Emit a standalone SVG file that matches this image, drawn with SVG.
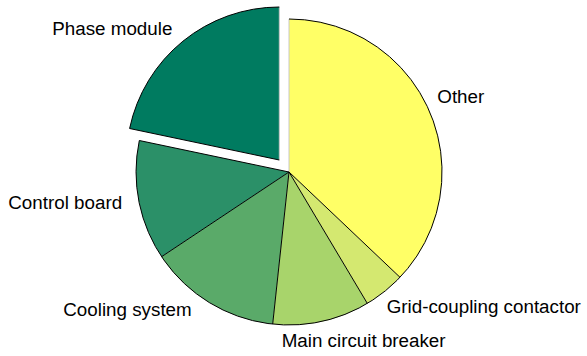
<svg xmlns="http://www.w3.org/2000/svg" width="587" height="356" viewBox="0 0 587 356">
  <style>
    .lbl { font-family: "Liberation Sans", Arial, sans-serif; font-size: 18.8px; fill: #000; }
    .edge { fill: none; stroke: #000; stroke-width: 1; stroke-linejoin: round; }
    .seam { fill: none; stroke: #c8c8c8; stroke-width: 1; }
  </style>
  <rect width="587" height="356" fill="#fff"/>

  <!-- pie slices, centre (289,172), radius 153 -->
  <g id="slice-phase-module">
    <path d="M279.3,160 L279.3,7 A153,153 0 0 0 129.6,128.5 Z" fill="#007b60"/>
    <path class="seam" d="M279.3,160 L279.3,7"/>
    <path class="edge" d="M279.3,7 A153,153 0 0 0 129.6,128.5 L279.3,160"/>
  </g>
  <g id="slice-control-board">
    <path d="M289,172 L139.3,140.5 A153,153 0 0 0 161.6,256.7 Z" fill="#2b9068"/>
  </g>
  <g id="slice-cooling-system">
    <path d="M289,172 L161.6,256.7 A153,153 0 0 0 272.7,324.1 Z" fill="#5aaa69"/>
  </g>
  <g id="slice-main-circuit-breaker">
    <path d="M289,172 L272.7,324.1 A153,153 0 0 0 367.3,303.4 Z" fill="#a8d46b"/>
  </g>
  <g id="slice-grid-coupling">
    <path d="M289,172 L367.3,303.4 A153,153 0 0 0 400,277.3 Z" fill="#d4e870"/>
  </g>
  <g id="slice-other">
    <path d="M289,172 L400,277.3 A153,153 0 0 0 289,19 Z" fill="#ffff66"/>
  </g>

  <!-- outlines of the main disc -->
  <g id="outlines">
    <path class="seam" d="M289,19 L289,172"/>
    <path class="edge" d="M139.3,140.5 A153,153 0 1 0 289,19"/>
    <path class="edge" d="M289,172 L139.3,140.5 M289,172 L161.6,256.7 M289,172 L272.7,324.1 M289,172 L367.3,303.4 M289,172 L400,277.3"/>
  </g>

  <!-- labels -->
  <g id="labels">
    <text class="lbl" x="52.3" y="35">Phase module</text>
    <text class="lbl" x="8.3" y="209">Control board</text>
    <text class="lbl" x="63.3" y="316">Cooling system</text>
    <text class="lbl" x="281.7" y="346.7">Main circuit breaker</text>
    <text class="lbl" x="386.7" y="313.3">Grid-coupling contactor</text>
    <text class="lbl" x="437.3" y="103.3">Other</text>
  </g>
</svg>
